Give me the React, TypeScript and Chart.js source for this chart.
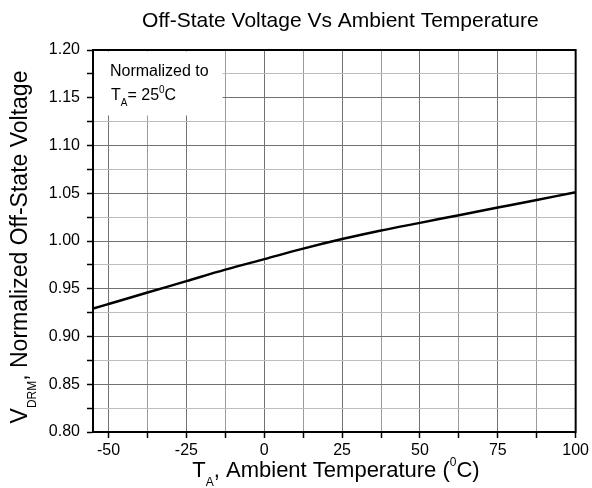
import React, { useEffect, useRef } from "react";
import { Chart, registerables } from "chart.js";

Chart.register(...registerables);

// ---- data ----
const temperatureC = [-55, -50, -37.5, -25, -12.5, 0, 12.5, 25, 37.5, 50, 62.5, 75, 87.5, 100];
const normalizedVdrm = [0.9292, 0.934, 0.946, 0.958, 0.97, 0.981, 0.992, 1.002, 1.011, 1.019, 1.027, 1.035, 1.043, 1.051];
const xTickValues = [-50, -37.5, -25, -12.5, 0, 12.5, 25, 37.5, 50, 62.5, 75, 87.5, 100];
const yTickValues = [0.8, 0.825, 0.85, 0.875, 0.9, 0.925, 0.95, 0.975, 1.0, 1.025, 1.05, 1.075, 1.1, 1.125, 1.15, 1.175, 1.2];

const chartTitle = "Off-State Voltage Vs Ambient Temperature";
const FONT = '"Liberation Sans", Arial, sans-serif';

type Seg = { t: string; size: number; dy?: number };

function drawRich(ctx: CanvasRenderingContext2D, segs: Seg[], x: number, y: number, align: "center" | "left") {
  let total = 0;
  for (const s of segs) {
    ctx.font = `${s.size}px ${FONT}`;
    total += ctx.measureText(s.t).width;
  }
  let cur = align === "center" ? x - total / 2 : x;
  ctx.textAlign = "left";
  ctx.textBaseline = "alphabetic";
  for (const s of segs) {
    ctx.font = `${s.size}px ${FONT}`;
    ctx.fillText(s.t, cur, y + (s.dy || 0));
    cur += ctx.measureText(s.t).width;
  }
}

const decorPlugin = {
  id: "decor",
  beforeDatasetsDraw(chart: any) {
    const { ctx, chartArea } = chart;
    ctx.save();
    ctx.fillStyle = "#fff";
    ctx.fillRect(chartArea.left + 1.5, chartArea.top + 1.5, 128, 64);
    ctx.restore();
  },
  afterDraw(chart: any) {
    const { ctx, chartArea } = chart;
    ctx.save();
    ctx.strokeStyle = "#000";
    ctx.lineWidth = 2;
    ctx.strokeRect(chartArea.left, chartArea.top, chartArea.right - chartArea.left, chartArea.bottom - chartArea.top);
    ctx.fillStyle = "#000";
    // title
    drawRich(ctx, [{ t: chartTitle, size: 21 }], (chartArea.left + chartArea.right) / 2 + 6, 27, "center");
    // x title
    drawRich(
      ctx,
      [
        { t: "T", size: 22 },
        { t: "A", size: 12, dy: 9 },
        { t: ", Ambient Temperature (", size: 22 },
        { t: "0", size: 12, dy: -11 },
        { t: "C)", size: 22 },
      ],
      336,
      477,
      "center"
    );
    // y title
    ctx.save();
    ctx.translate(27, 247);
    ctx.rotate(-Math.PI / 2);
    drawRich(
      ctx,
      [
        { t: "V", size: 23 },
        { t: "DRM", size: 12, dy: 9 },
        { t: ", Normalized Off-State Voltage", size: 23 },
      ],
      0,
      0,
      "center"
    );
    ctx.restore();
    // annotation
    drawRich(ctx, [{ t: "Normalized to", size: 16 }], chartArea.left + 17, 76, "left");
    drawRich(
      ctx,
      [
        { t: "T", size: 16 },
        { t: "A", size: 10, dy: 6 },
        { t: "= 25", size: 16 },
        { t: "0", size: 10, dy: -7 },
        { t: "C", size: 16 },
      ],
      chartArea.left + 18,
      100,
      "left"
    );
    ctx.restore();
  },
};

export default function App() {
  const ref = useRef<HTMLCanvasElement>(null);
  useEffect(() => {
    document.body.style.margin = "0";
    const canvas = ref.current!;
    const isMajorX = (v: number) => Math.abs(v % 25) < 1e-6;
    const isMajorY = (v: number) => Math.round(v * 1000) % 50 === 0;
    const chart = new Chart(canvas, {
      type: "line",
      data: {
        datasets: [
          {
            data: temperatureC.map((x, i) => ({ x, y: normalizedVdrm[i] })),
            borderColor: "#000",
            borderWidth: 2.5,
            pointRadius: 0,
            cubicInterpolationMode: "monotone",
            fill: false,
          },
        ],
      },
      options: {
        animation: false,
        responsive: false,
        maintainAspectRatio: false,
        events: [],
        layout: { padding: { left: 0, top: 50, right: 16, bottom: 0 } },
        plugins: { legend: { display: false }, tooltip: { enabled: false }, title: { display: false } },
        scales: {
          x: {
            type: "linear",
            min: -55,
            max: 100,
            afterBuildTicks: (s: any) => {
              s.ticks = xTickValues.map((v) => ({ value: v }));
            },
            afterFit: (s: any) => {
              s.height = 56;
            },
            ticks: {
              autoSkip: false,
              maxRotation: 0,
              padding: 3,
              color: "#000",
              font: { family: FONT, size: 16 },
              callback: (v: any) => (isMajorX(Number(v)) ? String(v) : ""),
            },
            grid: {
              color: (c: any) => (c.tick && isMajorX(c.tick.value) ? "#727272" : "#9a9a9a"),
              lineWidth: 1,
              tickColor: "#000",
              tickLength: 6,
              tickWidth: 1.5,
            },
            border: { color: "#000", width: 2 },
          },
          y: {
            type: "linear",
            min: 0.8,
            max: 1.2,
            afterBuildTicks: (s: any) => {
              s.ticks = yTickValues.map((v) => ({ value: v }));
            },
            afterFit: (s: any) => {
              s.width = 93;
            },
            ticks: {
              autoSkip: false,
              padding: 7,
              color: "#000",
              font: { family: FONT, size: 16 },
              callback: (v: any) => (isMajorY(Number(v)) ? Number(v).toFixed(2) : ""),
            },
            grid: {
              color: (c: any) => (c.tick && isMajorY(c.tick.value) ? "#727272" : "#bcbcbc"),
              lineWidth: 1,
              tickColor: "#000",
              tickLength: 6,
              tickWidth: 1.5,
            },
            border: { color: "#000", width: 2 },
          },
        },
      },
      plugins: [decorPlugin],
    });
    return () => chart.destroy();
  }, []);
  return (
    <div style={{ position: "absolute", left: 0, top: 0, width: 592, height: 488, background: "#fff" }}>
      <canvas ref={ref} width={592} height={488} style={{ display: "block" }} />
    </div>
  );
}
